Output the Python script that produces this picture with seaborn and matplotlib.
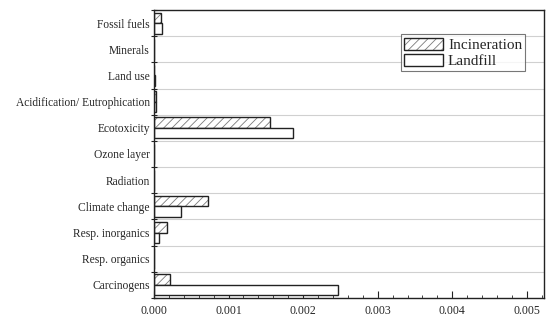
import numpy as np
import pandas as pd
import matplotlib
matplotlib.use("Agg")
import matplotlib.pyplot as plt
import matplotlib.colors as mcolors
from matplotlib.patches import Patch
from matplotlib.ticker import MultipleLocator, FormatStrFormatter
import seaborn as sns

categories = ["Fossil fuels", "Minerals", "Land use", "Acidification/ Eutrophication",
              "Ecotoxicity", "Ozone layer", "Radiation", "Climate change",
              "Resp. inorganics", "Resp. organics", "Carcinogens"]
incineration = [0.000100, 0.0, 0.000005, 0.000030, 0.001555, 0.0, 0.0, 0.000728,
                0.000170, 0.0, 0.000210]
landfill = [0.000110, 0.0, 0.000020, 0.000025, 0.001868, 0.0, 0.0, 0.000366,
            0.000071, 0.0, 0.002462]
scenarios = ["Incineration", "Landfill"]

df = pd.DataFrame({
    "category": categories * 2,
    "value": incineration + landfill,
    "scenario": [scenarios[0]] * len(categories) + [scenarios[1]] * len(categories),
})

sns.set_style("white")
plt.rcParams["font.family"] = ["Liberation Serif", "DejaVu Serif"]
plt.rcParams["hatch.linewidth"] = 0.6
hatch_grey = mcolors.to_rgba("#7a7a7a")

fig = plt.figure(figsize=(5.46, 3.21), dpi=100)
ax = fig.add_axes([0.282, 0.0717, 0.7143, 0.8971])

sns.barplot(data=df, y="category", x="value", hue="scenario", orient="h",
            order=categories, hue_order=scenarios, palette=["white", "white"],
            width=0.8, edgecolor="#222222", linewidth=1.0, legend=False, ax=ax)

n = len(categories)
for p in ax.patches[:n]:
    p.set_hatch("////")
    p._hatch_color = hatch_grey  # lighter hatch than the outline

ax.set_xlim(0, 0.00523)
ax.set_ylim(n - 0.5, -0.5)
ax.xaxis.set_major_locator(MultipleLocator(0.001))
ax.xaxis.set_minor_locator(MultipleLocator(0.0002))
ax.xaxis.set_major_formatter(FormatStrFormatter("%.3f"))

ax.set_yticks(np.arange(-0.5, n, 1.0))
ax.set_yticklabels([])
ax.set_yticks(np.arange(n), minor=True)
ax.set_yticklabels(categories, minor=True)
ax.tick_params(axis="y", which="major", direction="inout", length=5, width=0.8,
               color="#222222", left=True)
ax.tick_params(axis="y", which="minor", length=0, labelsize=8.3, pad=3)
ax.tick_params(axis="x", which="major", direction="in", length=5, width=0.8,
               color="#222222", labelsize=8.5, bottom=True, pad=5)
ax.tick_params(axis="x", which="minor", direction="in", length=2.5, width=0.6,
               color="#222222", bottom=True)
ax.grid(axis="y", which="major", color="#d0d0d0", linewidth=0.8)
ax.set_axisbelow(True)
ax.set_xlabel("")
ax.set_ylabel("")
for s in ax.spines.values():
    s.set_color("#222222")
    s.set_linewidth(1.0)

h_inc = Patch(facecolor="white", edgecolor="#222222", hatch="////", label=scenarios[0])
h_inc._hatch_color = hatch_grey
h_land = Patch(facecolor="white", edgecolor="#222222", label=scenarios[1])
leg = ax.legend(handles=[h_inc, h_land], loc="upper right", bbox_to_anchor=(0.952, 0.915),
                fontsize=11, frameon=True, fancybox=False, edgecolor="#555555",
                handlelength=2.6, handleheight=0.9, handletextpad=0.3,
                labelspacing=0.1, borderpad=0.2, borderaxespad=0)
leg.get_frame().set_linewidth(0.8)

fig.savefig("out.png", dpi=100)
